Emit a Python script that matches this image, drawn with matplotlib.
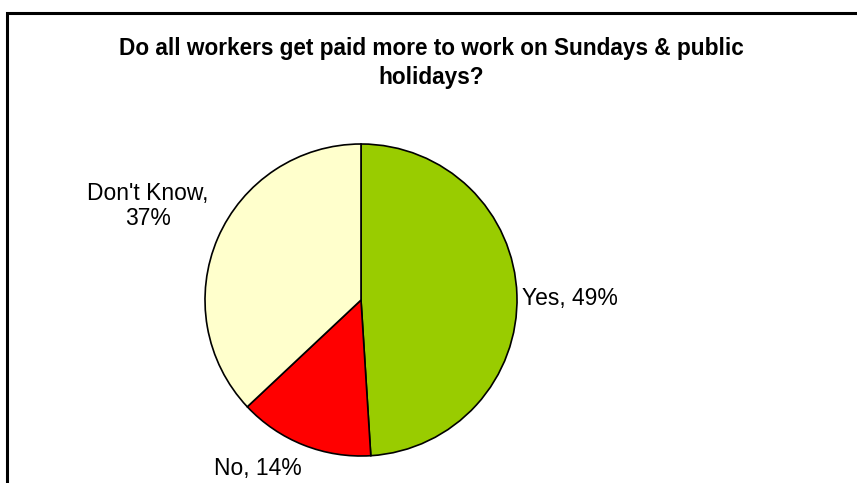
import matplotlib.pyplot as plt
from matplotlib.patches import Rectangle

plt.rcParams['font.family'] = ['Liberation Sans', 'DejaVu Sans']

# data
categories = ['Yes', 'No', "Don't Know"]
values = [49, 14, 37]
colors = ['#99CC00', '#FF0000', '#FFFFCC']

W, H = 857, 483
fig = plt.figure(figsize=(W / 100, H / 100), dpi=100)
ax = fig.add_axes([0, 0, 1, 1])
ax.set_xlim(0, W)
ax.set_ylim(0, H)
ax.set_aspect('equal')
ax.axis('off')

# pie, pixel coords (y flipped)
ax.pie(values, colors=colors, startangle=90, counterclock=False,
       center=(361, H - 300), radius=156,
       wedgeprops=dict(edgecolor='black', linewidth=1.2))
ax.set_xlim(0, W)
ax.set_ylim(0, H)

# outer frame (right/bottom cut off)
ax.add_patch(Rectangle((7, -20), W + 20, H - 13 + 20, fill=False,
                       edgecolor='black', linewidth=2.2, clip_on=False))

ax.text(431, H - 63, 'Do all workers get paid more to work on Sundays & public\nholidays?',
        ha='center', va='center', fontsize=16.3, fontweight='bold', linespacing=1.38)

label_pos = [(522, H - 298, 'left'), (258, H - 468, 'center'), (148, H - 206, 'center')]
for cat, v, (x, y, ha) in zip(categories, values, label_pos):
    txt = f'{cat}, {v}%' if cat != "Don't Know" else f'{cat},\n{v}%'
    ax.text(x, y, txt, ha=ha, va='center', fontsize=16.5, linespacing=1.15)

fig.savefig('out.png', dpi=100)
